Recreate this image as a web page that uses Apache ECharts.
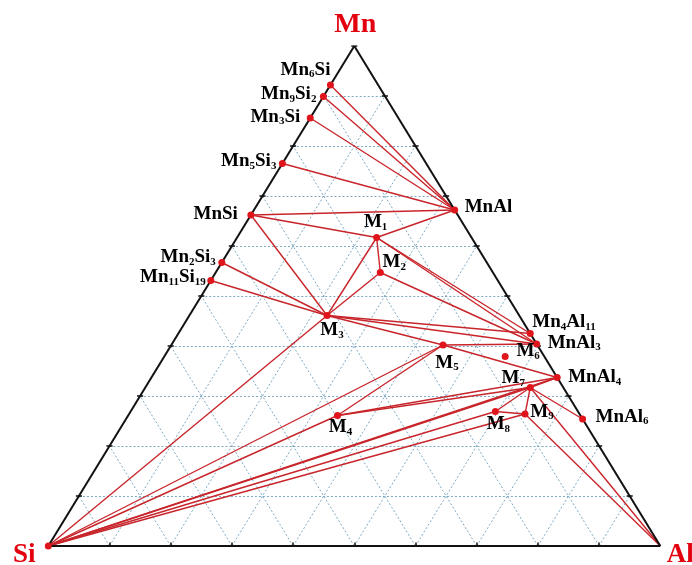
<!DOCTYPE html>
<html><head><meta charset="utf-8">
<script src="https://cdn.jsdelivr.net/npm/echarts@6/dist/echarts.min.js"></script>
<style>html,body{margin:0;padding:0;background:#fff}#c{width:692px;height:565px}</style>
</head><body><div id="c"></div>
<script>
// ---- data (weight fractions) ----
const phaseNames = ['Mn6Si','Mn9Si2','Mn3Si','Mn5Si3','MnSi','Mn2Si3','Mn11Si19',
  'MnAl','Mn4Al11','MnAl3','MnAl4','MnAl6',
  'M1','M2','M3','M4','M5','M6','M7','M8','M9'];
const phaseMn = [0.922,0.899,0.856,0.765,0.662,0.567,0.531,
  0.672,0.425,0.404,0.337,0.254,
  0.617,0.547,0.461,0.261,0.402,0.379,0.317,0.269,0.264];
const phaseAl = [0,0,0,0,0,0,0,
  0.328,0.575,0.596,0.663,0.746,
  0.228,0.269,0.225,0.342,0.444,0.557,0.629,0.596,0.647];
const vertexNames = ['Si','Al','Mn'];
const vertexMn = [0,0,1];
const vertexAl = [0,1,0];
const tieLines = [
  ['Mn6Si','MnAl'],['Mn9Si2','MnAl'],['Mn3Si','MnAl'],['Mn5Si3','MnAl'],['MnSi','MnAl'],
  ['MnSi','M1'],['M1','MnAl'],['MnSi','M3'],
  ['M1','M2'],['M1','M3'],['M2','M3'],
  ['M1','Mn4Al11'],['M1','MnAl3'],['M2','MnAl3'],
  ['Mn2Si3','M3'],['Mn11Si19','M3'],
  ['M3','Mn4Al11'],['M3','MnAl3'],['M3','M5'],['M3','Si'],
  ['M5','MnAl3'],['M5','MnAl4'],['M5','M4'],['M5','Si'],
  ['M4','MnAl4'],['M4','M7'],['M4','Si'],
  ['Si','MnAl4'],['Si','M7'],['Si','M8'],['Si','M9'],
  ['M7','MnAl4'],['M7','M8'],['M7','M9'],['M8','M9'],['M7','MnAl6'],['M7','Al'],['M9','Al']
];
const gridLevels = [0.1,0.2,0.3,0.4,0.5,0.6,0.7,0.8,0.9];

// ---- label placement (style only) ----
const labelPlace = {
  'Mn6Si':['right',0,-15],'Mn9Si2':['right',-7,-2],'Mn3Si':['right',-10,-1],'Mn5Si3':['right',-6,-2],
  'MnSi':['right',-13,-1],'Mn2Si3':['right',-6,-5],'Mn11Si19':['right',-5,-3],
  'MnAl':['left',10,-3],'Mn4Al11':['left',2,-11],'MnAl3':['left',11,-1],'MnAl4':['left',11,0],'MnAl6':['left',13,-2],
  'M1':['center',-1,-15],'M2':['center',14,-10],'M3':['center',5,15],'M4':['center',3,12],
  'M5':['center',4,18],'M6':['center',23,-5],'M7':['center',-17,-9],'M8':['center',3,13],'M9':['center',17,-2]
};
const vertexPlace = {'Si':[-24,9],'Al':[20,9],'Mn':[1,-21]};

function toXY(mn, al){ return [al + mn*0.5, mn]; }
const pos = {};
phaseNames.forEach((n,i)=>{ pos[n] = toXY(phaseMn[i], phaseAl[i]); });
vertexNames.forEach((n,i)=>{ pos[n] = toXY(vertexMn[i], vertexAl[i]); });

function rich(name){
  return name.replace(/([A-Za-z]+)|(\d+)/g, (m,a,d)=> a ? '{b|'+a+'}' : '{s|'+d+'}');
}

// grid lines
const gridData = [];
gridLevels.forEach(t=>{
  gridData.push({coords:[toXY(t,0), toXY(t,1-t)]});
  gridData.push({coords:[toXY(0,t), toXY(1-t,t)]});
  gridData.push({coords:[toXY(0,1-t), toXY(1-t,0)]});
});
const edgeData = [
  {coords:[pos.Si, pos.Al]},{coords:[pos.Al, pos.Mn]},{coords:[pos.Mn, pos.Si]}
];
const tx = 0.005, ty = 0.007;
const tickData = [];
gridLevels.forEach(t=>{
  const l = toXY(t,0), r = toXY(t,1-t), b = toXY(0,t);
  tickData.push({coords:[[l[0]-tx,l[1]],[l[0]+tx,l[1]]]});
  tickData.push({coords:[[r[0]-tx,r[1]],[r[0]+tx,r[1]]]});
  tickData.push({coords:[[b[0],b[1]-ty],[b[0],b[1]+ty]]});
});
tickData.push({coords:[[pos.Mn[0]-tx,pos.Mn[1]],[pos.Mn[0]+tx,pos.Mn[1]]]});

const tieData = tieLines.map(p=>({coords:[pos[p[0]], pos[p[1]]]}));

const FONT = 'Liberation Serif';
const richStyle = {
  b:{fontFamily:FONT,fontWeight:'bold',fontSize:19,color:'#000',textBorderWidth:0},
  s:{fontFamily:FONT,fontWeight:'bold',fontSize:11,color:'#000',textBorderWidth:0,padding:[9,0,0,0]}
};
const phasePoints = phaseNames.map(n=>{
  const p = labelPlace[n];
  return {value:pos[n], name:n, label:{show:true,position:'inside',align:p[0],verticalAlign:'middle',
    offset:[p[1],p[2]], formatter:rich(n), rich:richStyle, color:'#000', textBorderWidth:0, opacity:1}};
});
const vertexPoints = vertexNames.map(n=>{
  const p = vertexPlace[n];
  return {value:pos[n], name:n, symbolSize: n==='Si'?7:0,
    label:{show:true,position:'inside',align:'center',verticalAlign:'middle',offset:p,formatter:n,
      fontFamily:FONT,fontWeight:'bold',fontSize:n==='Mn'?28:27,color:'#e3000f',textBorderWidth:0}};
});

const chart = echarts.init(document.getElementById('c'), null, {renderer:'canvas'});
chart.setOption({
  animation:false,
  backgroundColor:'#fff',
  grid:{left:48.3,right:31.7,top:46,bottom:19,containLabel:false},
  xAxis:{type:'value',min:0,max:1,show:false},
  yAxis:{type:'value',min:0,max:1,show:false},
  series:[
    {type:'lines',coordinateSystem:'cartesian2d',silent:true,data:gridData,
      lineStyle:{color:'#7ea9c2',width:1,type:[2,2],opacity:1}},
    {type:'lines',coordinateSystem:'cartesian2d',silent:true,data:tieData,
      lineStyle:{color:'#c8252b',width:1.4,opacity:1}},
    {type:'lines',coordinateSystem:'cartesian2d',silent:true,data:edgeData,
      lineStyle:{color:'#111',width:2,opacity:1}},
    {type:'lines',coordinateSystem:'cartesian2d',silent:true,data:tickData,
      lineStyle:{color:'#111',width:1.5,opacity:1}},
    {type:'scatter',symbol:'circle',symbolSize:7,itemStyle:{color:'#e0141b',opacity:1},silent:true,data:phasePoints},
    {type:'scatter',symbol:'circle',itemStyle:{color:'#e0141b',opacity:1},silent:true,data:vertexPoints}
  ]
});
</script></body></html>
